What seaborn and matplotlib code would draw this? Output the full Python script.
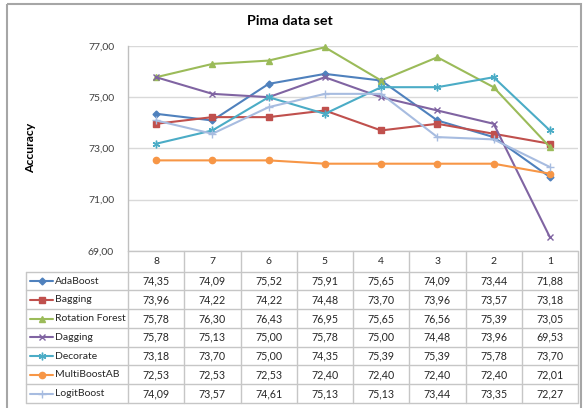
import numpy as np
import matplotlib
matplotlib.use("Agg")
import matplotlib.pyplot as plt
import seaborn as sns
from matplotlib import transforms
from matplotlib.lines import Line2D
from matplotlib.patches import Rectangle

# ---- data -------------------------------------------------------------
categories = ["8", "7", "6", "5", "4", "3", "2", "1"]
methods = ["AdaBoost", "Bagging", "Rotation Forest", "Dagging",
           "Decorate", "MultiBoostAB", "LogitBoost"]
adaboost = [74.35, 74.09, 75.52, 75.91, 75.65, 74.09, 73.44, 71.88]
bagging = [73.96, 74.22, 74.22, 74.48, 73.70, 73.96, 73.57, 73.18]
rotation_forest = [75.78, 76.30, 76.43, 76.95, 75.65, 76.56, 75.39, 73.05]
dagging = [75.78, 75.13, 75.00, 75.78, 75.00, 74.48, 73.96, 69.53]
decorate = [73.18, 73.70, 75.00, 74.35, 75.39, 75.39, 75.78, 73.70]
multiboost = [72.53, 72.53, 72.53, 72.40, 72.40, 72.40, 72.40, 72.01]
logitboost = [74.09, 73.57, 74.61, 75.13, 75.13, 73.44, 73.35, 72.27]
series = [adaboost, bagging, rotation_forest, dagging, decorate, multiboost, logitboost]
y_ticks = [69, 71, 73, 75, 77]

colors = ["#4F81BD", "#C0504D", "#9BBB59", "#8064A2", "#4BACC6", "#F79646", "#A7BCE0"]
markers = ["D", "s", "^", "x", (6, 2, 0), "o", "+"]
msizes = [3.5, 4.5, 4.5, 4.5, 5.5, 4.5, 5.5]


def comma(v):
    return f"{v:.2f}".replace(".", ",")


sns.set_theme(style="white")
plt.rcParams["font.family"] = ["Lato", "DejaVu Sans"]

W, H = 586, 408
fig = plt.figure(figsize=(W / 100, H / 100), dpi=100)
fig.patch.set_facecolor("white")

# plot area geometry (pixels)
px_left, px_right, px_top, px_bottom = 128, 578, 46, 250.7
ax = fig.add_axes([px_left / W, (H - px_bottom) / H,
                   (px_right - px_left) / W, (px_bottom - px_top) / H])
ax.set_xlim(-0.5, len(categories) - 0.5)
ax.set_ylim(y_ticks[0], y_ticks[-1])

x = np.arange(len(categories))
for vals, c, m, ms in zip(series, colors, markers, msizes):
    sns.lineplot(x=x, y=vals, ax=ax, color=c, marker=m, markersize=ms,
                 markeredgecolor=c, markerfacecolor=c, markeredgewidth=1.0,
                 linewidth=1.5, clip_on=False, legend=False)

ax.set_yticks(y_ticks)
ax.set_yticklabels([comma(v) for v in y_ticks])
ax.set_xticks([])
ax.tick_params(axis="y", length=0, pad=10, labelsize=7.5, labelcolor="#404040")
ax.yaxis.grid(True, color="#D9D9D9", linewidth=1)
ax.set_axisbelow(True)
for s in ["top", "right", "bottom"]:
    ax.spines[s].set_visible(False)
ax.spines["left"].set_color("#BFBFBF")
ax.spines["left"].set_linewidth(1)
ax.set_xlabel("")
ax.set_ylabel("")

# ---- data table below the plot (pixel coordinates) ---------------------
tab = fig.add_axes([0, 0, 1, 1])
tab.set_xlim(0, W)
tab.set_ylim(H, 0)
tab.axis("off")
tab.patch.set_alpha(0)
blend = transforms.blended_transform_factory(ax.transData, tab.transData)

grid_c = "#C6C6C6"
tbl_left = 26
header_bot = 271.7
tbl_bottom = 403
row_h = (tbl_bottom - header_bot) / len(methods)

# horizontal rules
tab.plot([px_left, px_right], [px_bottom, px_bottom], color=grid_c, lw=1)
for k in range(len(methods) + 1):
    yk = header_bot + k * row_h
    tab.plot([tbl_left, px_right], [yk, yk], color=grid_c, lw=1)
# vertical rules
for i in range(len(categories) + 1):
    tab.plot([i - 0.5, i - 0.5], [px_bottom, tbl_bottom], color=grid_c, lw=1,
             transform=blend)
tab.plot([tbl_left, tbl_left], [header_bot, tbl_bottom], color=grid_c, lw=1)

# header (category labels)
for i, cat in enumerate(categories):
    tab.text(i, (px_bottom + header_bot) / 2 + 0.5, cat, transform=blend,
             ha="center", va="center", fontsize=7.5, color="#262626")

# rows: legend key + values
for r, (name, vals, c, m, ms) in enumerate(zip(methods, series, colors, markers, msizes)):
    yc = header_bot + (r + 0.5) * row_h
    tab.add_line(Line2D([30, 53], [yc, yc], color=c, lw=1.5))
    tab.add_line(Line2D([41.5], [yc], color=c, marker=m, markersize=ms,
                        markeredgecolor=c, markerfacecolor=c, markeredgewidth=1.0))
    tab.text(55, yc, name, ha="left", va="center", fontsize=7.5, color="#262626")
    for i, v in enumerate(vals):
        tab.text(i, yc, comma(v), transform=blend, ha="center", va="center",
                 fontsize=7.7, color="#262626")

# title, axis label, chart border
tab.text(290, 21, "Pima data set", ha="center", va="center", fontsize=10.3,
         fontweight="bold", color="#000000")
tab.text(31, 148, "Accuracy", rotation=90, ha="center", va="center",
         fontsize=8.8, fontweight="bold", color="#000000")
tab.add_patch(Rectangle((7, 4), 574, 420, fill=False, edgecolor="#A6A6A6",
                        lw=1.5, clip_on=False))

fig.savefig("out.png", dpi=100)
